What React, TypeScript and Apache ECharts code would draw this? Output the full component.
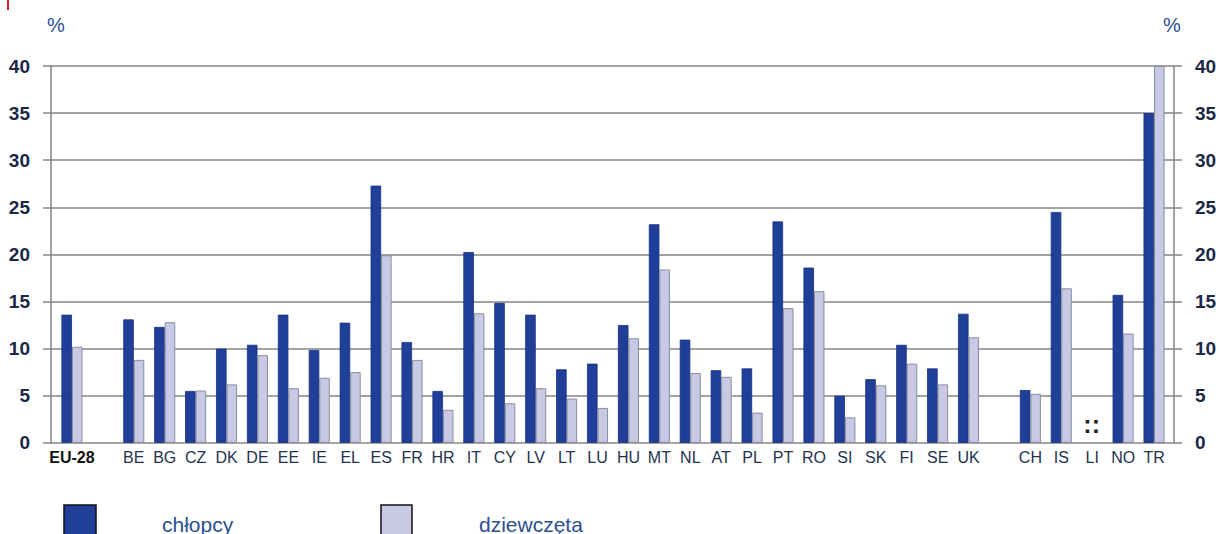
import React, { useEffect, useRef } from "react";
import * as echarts from "echarts";

// Country codes along the x axis ("" marks the empty spacer slots)
const categories = [
  "EU-28", "",
  "BE", "BG", "CZ", "DK", "DE", "EE", "IE", "EL", "ES", "FR", "HR", "IT", "CY", "LV",
  "LT", "LU", "HU", "MT", "NL", "AT", "PL", "PT", "RO", "SI", "SK", "FI", "SE", "UK",
  "",
  "CH", "IS", "LI", "NO", "TR",
];

// Shares in % — boys (chłopcy)
const boys: (number | null)[] = [
  13.6, null,
  13.1, 12.3, 5.5, 10.0, 10.4, 13.6, 9.85, 12.75, 27.3, 10.7, 5.5, 20.25, 14.85, 13.6,
  7.8, 8.4, 12.5, 23.2, 10.95, 7.7, 7.9, 23.5, 18.6, 5.0, 6.75, 10.4, 7.9, 13.7,
  null,
  5.6, 24.5, null, 15.7, 35.0,
];

// Shares in % — girls (dziewczęta)
const girls: (number | null)[] = [
  10.2, null,
  8.8, 12.8, 5.55, 6.2, 9.3, 5.8, 6.9, 7.5, 19.9, 8.8, 3.5, 13.75, 4.2, 5.8,
  4.7, 3.7, 11.1, 18.4, 7.4, 7.0, 3.2, 14.3, 16.1, 2.7, 6.1, 8.4, 6.2, 11.2,
  null,
  5.2, 16.4, null, 11.6, 40.0,
];

const yTicks = { min: 0, max: 40, interval: 5 };
const notAvailable = "LI";
const legendNames = ["chłopcy", "dziewczęta"];

const BLUE = "#1f3f99";
const LIGHT = "#c7c9e5";
const GRID_GREY = "#858585";
const LABEL_DARK = "#1a2846";
const TEXT_BLUE = "#2b4f8f";

export default function App() {
  const ref = useRef<HTMLDivElement>(null);

  useEffect(() => {
    if (!ref.current) return;
    const chart = echarts.init(ref.current, undefined, { renderer: "svg" });

    const yLabel = {
      fontFamily: "Liberation Sans, Arial, sans-serif",
      fontWeight: "bold" as const,
      fontSize: 19,
      color: LABEL_DARK,
      margin: 21,
    };

    // ":" placed where a value is not available
    const naMark = (dx: number) => ({
      symbol: "circle",
      symbolSize: 0,
      silent: true,
      label: {
        show: true,
        position: "inside",
        formatter: ":",
        offset: [dx, 0],
        fontFamily: "Liberation Sans, Arial, sans-serif",
        fontWeight: "bold",
        fontSize: 25,
        color: "#222",
      },
      data: [{ coord: [notAvailable, 2.0] }],
    });

    chart.setOption({
      animation: false,
      backgroundColor: "#ffffff",
      grid: [
        // frame with the two value axes
        { left: 51, right: 46, top: 66, bottom: 91.2 },
        // bars
        { left: 56.5, right: 50.5, top: 66, bottom: 91.2 },
      ],
      xAxis: [
        { type: "value", gridIndex: 0, min: 0, max: 1, show: false },
        {
          type: "category",
          gridIndex: 1,
          data: categories,
          axisLine: { show: false },
          axisTick: { show: false },
          axisLabel: {
            interval: 0,
            margin: 7,
            fontFamily: "Liberation Sans, Arial, sans-serif",
            fontSize: 16,
            color: "#24324f",
            formatter: (v: string) => (v === "EU-28" ? "{b|EU-28}" : v),
            rich: {
              b: {
                fontFamily: "Liberation Sans, Arial, sans-serif",
                fontSize: 16,
                fontWeight: "bold",
                color: "#111111",
              },
            },
          },
        },
      ],
      yAxis: [
        {
          type: "value",
          gridIndex: 0,
          position: "left",
          ...yTicks,
          axisLine: { show: true, lineStyle: { color: GRID_GREY, width: 1.5 } },
          axisTick: { show: true, length: 8, lineStyle: { color: GRID_GREY, width: 1.5 } },
          axisLabel: yLabel,
          splitLine: { show: true, lineStyle: { color: GRID_GREY, width: 1.5 } },
        },
        {
          type: "value",
          gridIndex: 0,
          position: "right",
          ...yTicks,
          axisLine: { show: true, lineStyle: { color: GRID_GREY, width: 1.5 } },
          axisTick: { show: true, length: 8, lineStyle: { color: GRID_GREY, width: 1.5 } },
          axisLabel: yLabel,
          splitLine: { show: false },
        },
        {
          type: "value",
          gridIndex: 1,
          ...yTicks,
          show: false,
          splitLine: { show: false },
        },
      ],
      series: [
        {
          name: legendNames[0],
          type: "bar",
          xAxisIndex: 1,
          yAxisIndex: 2,
          data: boys,
          barGap: "0%",
          barCategoryGap: "32%",
          itemStyle: { color: BLUE, borderColor: "#15307e", borderWidth: 0.8 },
          markPoint: naMark(0.5),
        },
        {
          name: legendNames[1],
          type: "bar",
          xAxisIndex: 1,
          yAxisIndex: 2,
          data: girls,
          barGap: "0%",
          barCategoryGap: "32%",
          itemStyle: { color: LIGHT, borderColor: "#8b8b9b", borderWidth: 1 },
          markPoint: naMark(-1.5),
        },
      ],
      graphic: [
        { type: "rect", left: 7, top: 0, shape: { width: 2, height: 10 }, style: { fill: "#d42020" } },
        {
          type: "text",
          x: 56,
          y: 25,
          style: {
            text: "%",
            fill: TEXT_BLUE,
            font: "20px Liberation Sans, Arial, sans-serif",
            textAlign: "center",
            textVerticalAlign: "middle",
          },
        },
        {
          type: "text",
          x: 1172,
          y: 25,
          style: {
            text: "%",
            fill: TEXT_BLUE,
            font: "20px Liberation Sans, Arial, sans-serif",
            textAlign: "center",
            textVerticalAlign: "middle",
          },
        },
        // legend
        {
          type: "rect",
          shape: { x: 64, y: 505, width: 32, height: 40 },
          style: { fill: BLUE, stroke: "#111", lineWidth: 1.5 },
        },
        {
          type: "text",
          x: 162,
          y: 524,
          style: {
            text: legendNames[0],
            fill: TEXT_BLUE,
            font: "21px Liberation Sans, Arial, sans-serif",
            textVerticalAlign: "middle",
          },
        },
        {
          type: "rect",
          shape: { x: 381, y: 505, width: 31, height: 40 },
          style: { fill: LIGHT, stroke: "#111", lineWidth: 1.5 },
        },
        {
          type: "text",
          x: 479,
          y: 524,
          style: {
            text: legendNames[1],
            fill: TEXT_BLUE,
            font: "21px Liberation Sans, Arial, sans-serif",
            textVerticalAlign: "middle",
          },
        },
      ],
    });

    return () => chart.dispose();
  }, []);

  return (
    <div
      ref={ref}
      style={{ position: "fixed", left: 0, top: 0, width: 1220, height: 534 }}
    />
  );
}
